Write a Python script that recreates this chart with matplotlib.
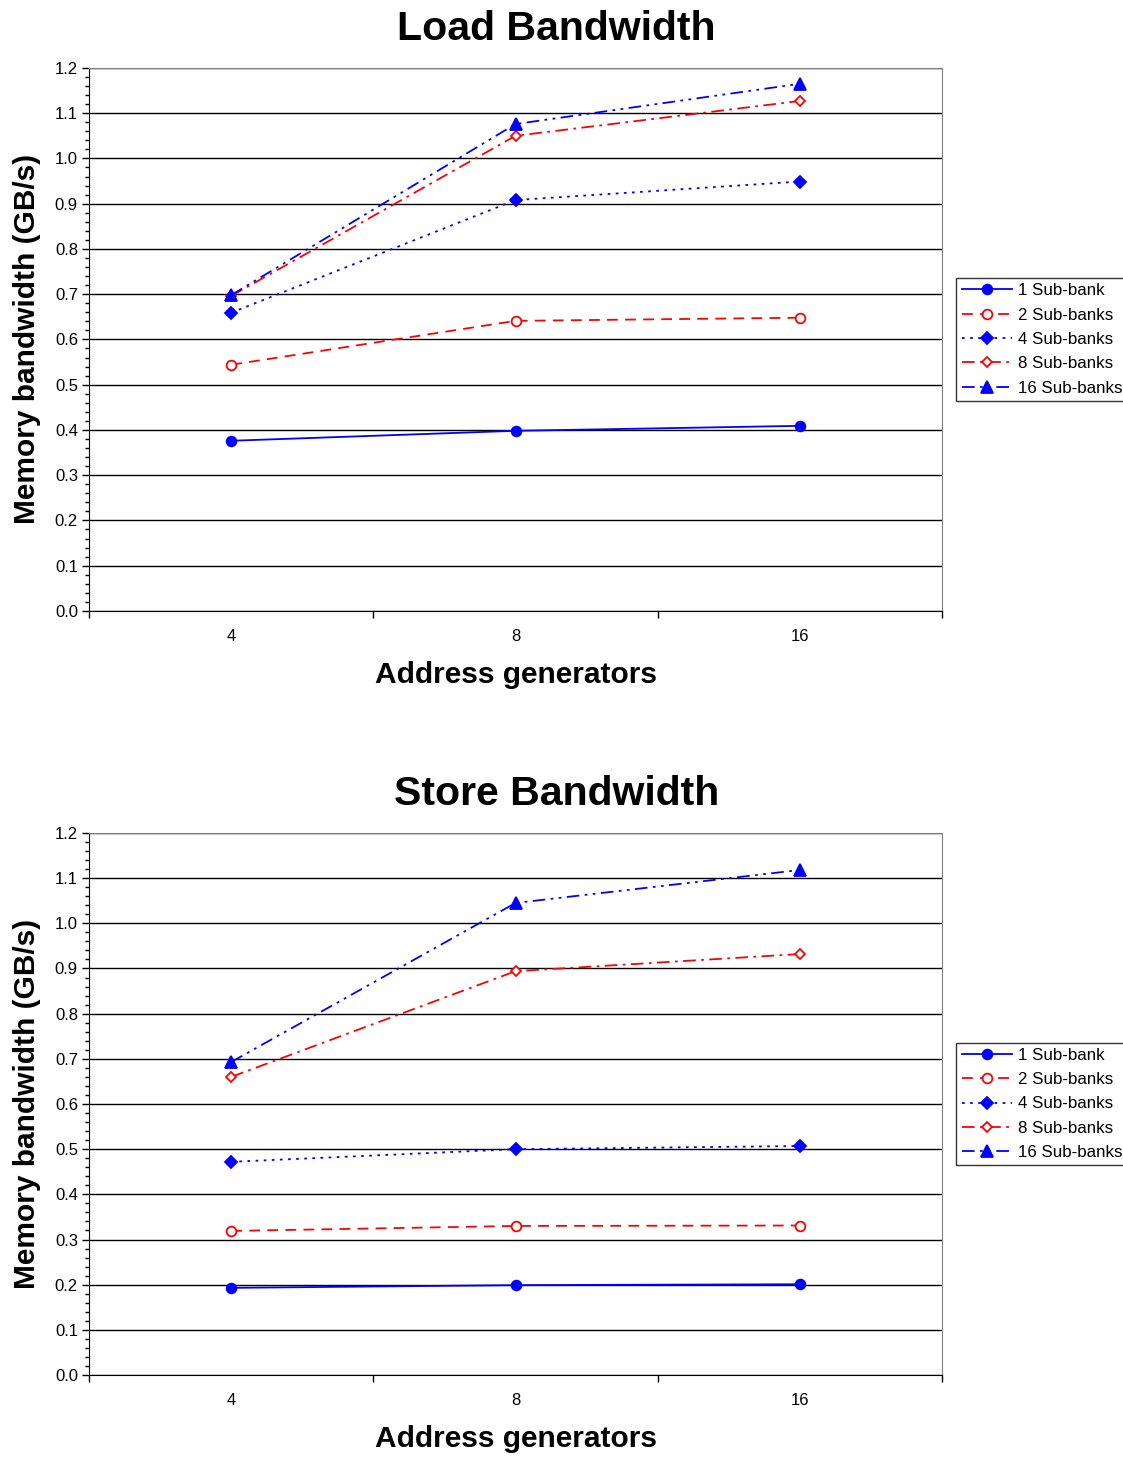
import matplotlib.pyplot as plt
from matplotlib.ticker import MultipleLocator, FixedLocator, NullFormatter

plt.rcParams['font.family'] = ['Liberation Sans', 'DejaVu Sans']

# data
generators = ['4', '8', '16']
series_names = ['1 Sub-bank', '2 Sub-banks', '4 Sub-banks', '8 Sub-banks', '16 Sub-banks']
load_1 = [0.376, 0.398, 0.409]
load_2 = [0.544, 0.641, 0.648]
load_4 = [0.659, 0.908, 0.949]
load_8 = [0.696, 1.050, 1.127]
load_16 = [0.698, 1.076, 1.165]
store_1 = [0.193, 0.199, 0.201]
store_2 = [0.319, 0.330, 0.331]
store_4 = [0.472, 0.500, 0.507]
store_8 = [0.660, 0.894, 0.932]
store_16 = [0.693, 1.045, 1.118]

# styles: color, linestyle, marker, filled, marker size
styles = [
    ('#0000ff', '-', 'o', True, 7),
    ('#ff0000', (0, (6, 4)), 'o', False, 7),
    ('#0000ff', (0, (1.5, 3)), 'D', True, 6),
    ('#ff0000', (0, (7, 3, 1.5, 3)), 'D', False, 5.5),
    ('#0000ff', (0, (7, 3, 1.5, 3, 1.5, 3)), '^', True, 8),
]

fig = plt.figure(figsize=(11.23, 14.58), dpi=100)


def draw(rect, title, data):
    ax = fig.add_axes(rect)
    x = list(range(len(generators)))
    for (c, ls, m, filled, ms), vals, name in zip(styles, data, series_names):
        ax.plot(x, vals, color=c, linestyle=ls, linewidth=1.3, marker=m,
                markersize=ms, markerfacecolor=c if filled else 'white',
                markeredgecolor=c, markeredgewidth=1.3, label=name, zorder=3)
    ax.set_xlim(-0.5, 2.5)
    ax.set_ylim(0, 1.2)
    ax.yaxis.set_major_locator(MultipleLocator(0.1))
    ax.yaxis.set_minor_locator(MultipleLocator(0.02))
    ax.yaxis.set_major_formatter(plt.FuncFormatter(lambda v, p: '%.1f' % v))
    ax.xaxis.set_major_locator(FixedLocator([-0.5, 0.5, 1.5, 2.5]))
    ax.xaxis.set_major_formatter(NullFormatter())
    ax.xaxis.set_minor_locator(FixedLocator(x))
    ax.xaxis.set_minor_formatter(plt.FixedFormatter(generators))
    ax.tick_params(axis='x', which='minor', length=0, pad=13, labelsize=12)
    ax.tick_params(axis='x', which='major', length=5, width=1)
    ax.tick_params(axis='y', which='major', length=5, width=1, labelsize=12, pad=3)
    ax.tick_params(axis='y', which='minor', length=3, width=1)
    ax.grid(axis='y', which='major', color='black', linewidth=1, zorder=1)
    ax.set_axisbelow(True)
    for s in ['top', 'right']:
        ax.spines[s].set_color('#808080')
    ax.spines['left'].set_color('black')
    ax.spines['bottom'].set_color('black')
    ax.set_title(title, fontsize=29.5, fontweight='bold', pad=20, x=0.548)
    ax.set_xlabel('Address generators', fontsize=21.5, fontweight='bold', labelpad=12)
    ax.set_ylabel('Memory bandwidth (GB/s)', fontsize=21.5, fontweight='bold', labelpad=10)
    leg = ax.legend(loc='center left', bbox_to_anchor=(1.017, 0.5), fontsize=12.2,
                    frameon=True, fancybox=False, edgecolor='black',
                    handlelength=3.0, handletextpad=0.35, borderpad=0.3,
                    labelspacing=0.55, borderaxespad=0)
    leg.get_frame().set_linewidth(1)
    return ax


draw([0.0793, 0.581, 0.7595, 0.3724], 'Load Bandwidth',
     [load_1, load_2, load_4, load_8, load_16])
draw([0.0793, 0.0569, 0.7595, 0.3718], 'Store Bandwidth',
     [store_1, store_2, store_4, store_8, store_16])

plt.savefig('out.png', dpi=100)
